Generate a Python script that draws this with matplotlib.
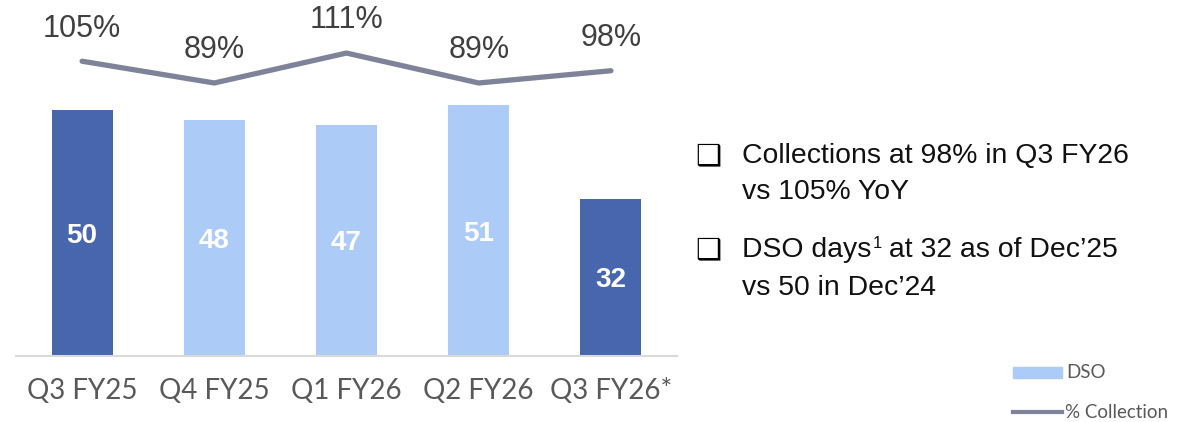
import matplotlib
matplotlib.use("Agg")
import matplotlib.pyplot as plt
from matplotlib.patches import Rectangle
from matplotlib.lines import Line2D

categories = ["Q3 FY25", "Q4 FY25", "Q1 FY26", "Q2 FY26", "Q3 FY26*"]
dso_values = [50, 48, 47, 51, 32]
collection_pct = [105, 89, 111, 89, 98]
highlight = [True, False, False, False, True]

# each bullet line: list of (text, is_superscript) pieces
bullets = [
    [[("Collections at 98% in Q3 FY26", False)], [("vs 105% YoY", False)]],
    [[("DSO days", False), ("1", True), (" at 32 as of Dec\u201925", False)],
     [("vs 50 in Dec\u201924", False)]],
]
legend_labels = ["DSO", "% Collection"]

DARK = "#4866AE"
LIGHT = "#ADCBF7"
LINE = "#7F8399"

W, H = 1194, 422
fig = plt.figure(figsize=(W / 100, H / 100), dpi=100)

ax_l, ax_r = 16 / W, 677 / W
ax_top, ax_bot = 0 / H, 356 / H
ax = fig.add_axes([ax_l, 1 - ax_bot, ax_r - ax_l, ax_bot - ax_top])
x = list(range(len(categories)))
colors = [DARK if h else LIGHT for h in highlight]
ax.bar(x, dso_values, width=0.46, color=colors, zorder=2)
ax.set_xlim(-0.5, 4.5)
ax.set_ylim(0, 72.4)
for xi, v in zip(x, dso_values):
    ax.text(xi, v / 2, str(v), ha="center", va="center_baseline", color="white",
            fontsize=20, fontweight="bold", family="Liberation Sans")
for s in ["top", "right", "left"]:
    ax.spines[s].set_visible(False)
ax.spines["bottom"].set_color("#D9D9D9")
ax.spines["bottom"].set_linewidth(1.5)
ax.set_yticks([])
ax.set_xticks(x)
ax.set_xticklabels(categories, fontsize=20, family="Lato", color="#595959")
ax.tick_params(axis="x", length=0, pad=16)

ax2 = ax.twinx()
ax2.set_ylim(-111.7, 150)
ax2.plot(x, collection_pct, color=LINE, lw=3.8, solid_capstyle="round", zorder=3)
for xi, p in zip(x, collection_pct):
    ax2.annotate(f"{p}%", (xi, p), xytext=(0, 26), textcoords="offset points",
                 ha="center", va="center_baseline", fontsize=22, color="#404040",
                 family="Liberation Sans")
ax2.set_yticks([])
for s in ax2.spines.values():
    s.set_visible(False)
ax.set_zorder(1)
ax2.set_zorder(2)
ax2.patch.set_visible(False)

# bullets
renderer = fig.canvas.get_renderer()
baselines = [[163, 199], [257, 295]]
for lines, bl in zip(bullets, baselines):
    fig.text(695 / W, 1 - (bl[0] + 1) / H, "\u2751", fontsize=21, family="DejaVu Sans",
             color="black", va="baseline", ha="left")
    for pieces, b in zip(lines, bl):
        xpx = 742
        for txt, sup in pieces:
            if sup:
                t = fig.text((xpx + 2) / W, 1 - (b - 9) / H, txt, fontsize=12,
                             family="Liberation Sans", color="#111111",
                             va="baseline", ha="left")
            else:
                t = fig.text(xpx / W, 1 - b / H, txt, fontsize=20.4,
                             family="Liberation Sans", color="#111111",
                             va="baseline", ha="left")
            ext = t.get_window_extent(renderer)
            xpx = ext.x1 - 1

# legend
fig.patches.append(Rectangle((1013 / W, 1 - 378 / H), 49 / W, 11 / H,
                             transform=fig.transFigure, color=LIGHT))
fig.lines.append(Line2D([1013 / W, 1062 / W], [1 - 412 / H, 1 - 412 / H],
                        transform=fig.transFigure, color=LINE, lw=3))
fig.text(1066 / W, 1 - 372 / H, legend_labels[0], fontsize=13.5, family="Lato",
         color="#595959", va="center", ha="left")
fig.text(1065 / W, 1 - 412 / H, legend_labels[1], fontsize=13.5, family="Lato",
         color="#595959", va="center", ha="left")

fig.savefig("out.png", dpi=100)
